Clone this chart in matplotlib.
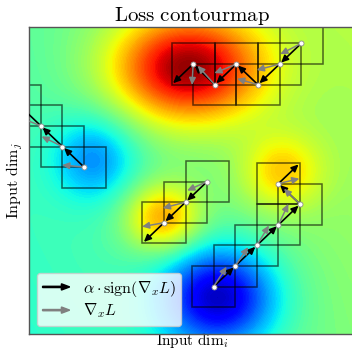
import numpy as np
import matplotlib
matplotlib.use("Agg")
import matplotlib.pyplot as plt
import matplotlib.patches as mpatches
from matplotlib.legend_handler import HandlerPatch

plt.rcParams['mathtext.fontset'] = 'cm'
plt.rcParams['font.family'] = ['DejaVu Serif']

# ---------------- data ----------------
# loss surface: background plane + gaussian bumps (centres, widths, amplitudes)
x_range = [0.0, 15.14]
y_range = [0.0, 14.90]
base_level = 0.40
base_slope_x = 0.007
base_slope_y = 0.004
bump_cx = [7.3, 3.05, 6.2, 11.7, 8.8]
bump_cy = [12.9, 8.55, 5.63, 7.86, 1.8]
bump_sx = [2.4, 1.4, 1.2, 1.3, 1.9]
bump_sy = [1.8, 1.5, 1.15, 1.3, 1.75]
bump_amp = [0.48, -0.19, 0.27, 0.18, -0.41]

# attack paths (iterates)
path1_x = [12.6, 11.6, 10.6, 9.6, 8.6, 7.6, 6.6]
path1_y = [14.1, 13.1, 12.1, 13.1, 12.1, 13.1, 12.1]
path1_gx = [-0.97, -1.06, -0.97, -1.02, -0.79, -0.05]
path1_gy = [-0.52, -0.29, 0.29, -0.44, 0.92, -1.02]

path2_x = [2.55, 1.55, 0.55, -0.45, -1.45]
path2_y = [8.1, 9.1, 10.1, 11.1, 12.1]
path2_gx = [-1.02, -0.97, -0.93, -0.93]
path2_gy = [0.10, 0.49, 0.39, 0.39]

path3_x = [8.25, 7.25, 6.25, 5.25]
path3_y = [7.4, 6.4, 5.4, 4.4]
path3_gx = [-0.93, -1.06, -1.02]
path3_gy = [-0.44, -0.29, -0.19]

path4_x = [8.55, 9.55, 10.55, 11.55, 12.55, 11.55, 12.55]
path4_y = [2.3, 3.3, 4.3, 5.3, 6.3, 7.3, 8.3]
path4_gx = [0.60, 0.60, 0.56, 0.46, -0.75, 0.97]
path4_gy = [0.97, 0.92, 0.97, 1.02, 0.75, 0.24]

eps = 1.0
title = r'$\mathrm{Loss\ contourmap}$'
xlabel = r'$\mathrm{Input\ dim}_i$'
ylabel = r'$\mathrm{Input\ dim}_j$'
legend_labels = [r'$\alpha\cdot\mathrm{sign}(\nabla_x L)$', r'$\nabla_x L$']

# ---------------- figure ----------------
fig = plt.figure(figsize=(3.52, 3.50), dpi=100)
ax = fig.add_axes([29 / 352, 16 / 350, 327 / 352, 307 / 350])

xs = np.linspace(x_range[0], x_range[1], 300)
ys = np.linspace(y_range[0], y_range[1], 300)
X, Y = np.meshgrid(xs, ys)
Z = base_level + base_slope_x * X + base_slope_y * Y
for cx, cy, sx, sy, a in zip(bump_cx, bump_cy, bump_sx, bump_sy, bump_amp):
    Z = Z + a * np.exp(-((X - cx) ** 2 / (2 * sx ** 2) + (Y - cy) ** 2 / (2 * sy ** 2)))

ax.contourf(X, Y, Z, levels=np.linspace(0, 1, 120), cmap='jet', extend='both', zorder=0)

paths = [
    (path1_x, path1_y, path1_gx, path1_gy),
    (path2_x, path2_y, path2_gx, path2_gy),
    (path3_x, path3_y, path3_gx, path3_gy),
    (path4_x, path4_y, path4_gx, path4_gy),
]

astyle = '-|>,head_length=0.6,head_width=0.28'
for px, py, gx, gy in paths:
    n = len(px)
    for i in range(n - 1):
        ax.add_patch(mpatches.Rectangle((px[i] - eps, py[i] - eps), 2 * eps, 2 * eps,
                                        fill=False, edgecolor=(0, 0, 0, 0.6), lw=1.1, zorder=2))
    for i in range(n - 1):
        ax.add_patch(mpatches.FancyArrowPatch((px[i], py[i]), (px[i + 1], py[i + 1]),
                                              arrowstyle=astyle, color='black', lw=1.2,
                                              shrinkA=0, shrinkB=1.5, mutation_scale=7, zorder=3))
    for i in range(n - 1):
        ax.add_patch(mpatches.FancyArrowPatch((px[i], py[i]), (px[i] + gx[i], py[i] + gy[i]),
                                              arrowstyle=astyle, color='#808080', lw=1.1,
                                              shrinkA=0, shrinkB=0, mutation_scale=7, zorder=4))
    ax.plot(px[:-1], py[:-1], 'o', ms=3.6, mfc='white', mec='#909090', mew=0.6, zorder=5, ls='none')

ax.set_xlim(*x_range)
ax.set_ylim(*y_range)
ax.set_xticks([])
ax.set_yticks([])
for s in ax.spines.values():
    s.set_color('#555555')
    s.set_linewidth(1.0)

ax.set_title(title, fontsize=15, pad=3)
ax.set_xlabel(xlabel, fontsize=11, labelpad=-2.5)
ax.set_ylabel(ylabel, fontsize=11.5, labelpad=3)


def make_arrow(legend, orig_handle, xdescent, ydescent, width, height, fontsize):
    return mpatches.FancyArrow(0, 0.5 * height, width, 0, length_includes_head=True,
                               width=0.9, head_width=4.5, head_length=6,
                               color=orig_handle.get_facecolor())


h1 = mpatches.FancyArrow(0, 0, 1, 0, color='black')
h2 = mpatches.FancyArrow(0, 0, 1, 0, color='#808080')
leg = ax.legend([h1, h2], legend_labels, loc='lower left', fontsize=11.5,
                handler_map={mpatches.FancyArrow: HandlerPatch(patch_func=make_arrow)},
                framealpha=0.8, fancybox=True, handlelength=1.7, borderpad=0.35,
                labelspacing=0.2, borderaxespad=0.5)
leg.get_frame().set_edgecolor('#cccccc')

fig.savefig('out.png', dpi=100)
